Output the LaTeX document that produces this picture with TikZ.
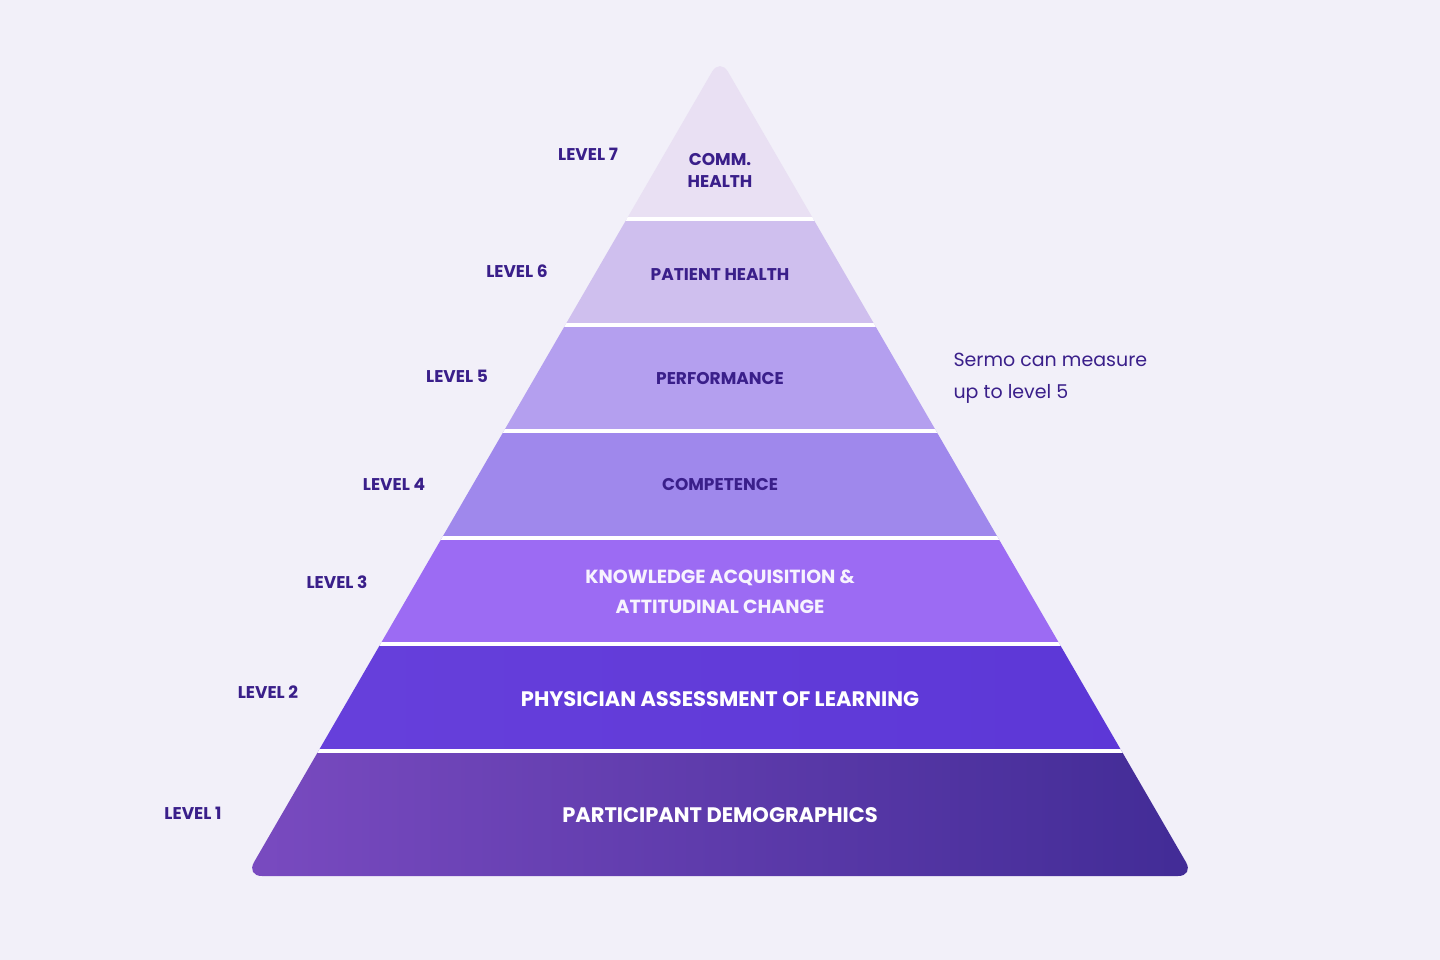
\documentclass[tikz,border=0pt]{standalone}
\usepackage{fontspec}
\setmainfont{Poppins}
\definecolor{bg}{HTML}{F2F0F9}
\definecolor{ink}{HTML}{3A1F8A}
\definecolor{cA}{HTML}{E9E0F3}
\definecolor{cB}{HTML}{CFBFEE}
\definecolor{cC}{HTML}{B49FEF}
\definecolor{cD}{HTML}{9F88EC}
\definecolor{cE}{HTML}{9C6BF3}
\definecolor{cF}{HTML}{5B36D6}
\definecolor{cG}{HTML}{3F2A94}
\definecolor{cGl}{HTML}{7C4CC2}
\begin{document}
\begin{tikzpicture}[x=1pt,y=-1pt,
  lvl/.style={font=\fontsize{17}{20}\selectfont\bfseries,text=ink},
  band/.style={font=\fontsize{17}{28}\selectfont\bfseries,text=ink,align=center},
  bandw/.style={font=\fontsize{21}{30}\selectfont\bfseries,text=white,align=center},
  gap/.style={white,line width=4pt}]
\fill[bg] (0,0) rectangle (1440,960);
\useasboundingbox (0,0) rectangle (1440,960);
\begin{scope}
\clip[rounded corners=16pt] (720,58) -- (1194,876) -- (246,876) -- cycle;
\fill[cA] (200,40) rectangle (1240,219);
\fill[cB] (200,219) rectangle (1240,325);
\fill[cC] (200,325) rectangle (1240,431);
\fill[cD] (200,431) rectangle (1240,538);
\fill[cE] (200,538) rectangle (1240,644);
\shade[left color=cF!80!cE, right color=cF] (200,644) rectangle (1240,751);
\shade[left color=cGl, right color=cG] (200,751) rectangle (1240,900);
\foreach \yy in {219,325,431,538,644,751} \draw[gap] (200,\yy) -- (1240,\yy);
\end{scope}
\node[band] (b7) at (720,170) {COMM.\\[-6pt]HEALTH};
\node[band] (b6) at (720,275) {PATIENT HEALTH};
\node[band] (b5) at (720,379) {PERFORMANCE};
\node[band] (b4) at (720,485) {COMPETENCE};
\node[bandw,text=white!92!cE,font=\fontsize{19}{30}\selectfont\bfseries] (b3) at (720,592) {KNOWLEDGE ACQUISITION \&\\ATTITUDINAL CHANGE};
\node[bandw] (b2) at (720,699) {PHYSICIAN ASSESSMENT OF LEARNING};
\node[bandw] (b1) at (720,815) {PARTICIPANT DEMOGRAPHICS};
\node[lvl] (l7) at (588,154) {LEVEL 7};
\node[lvl] (l6) at (517,271) {LEVEL 6};
\node[lvl] (l5) at (457,376) {LEVEL 5};
\node[lvl] (l4) at (394,484) {LEVEL 4};
\node[lvl] (l3) at (337,582) {LEVEL 3};
\node[lvl] (l2) at (268,692) {LEVEL 2};
\node[lvl] (l1) at (193,813) {LEVEL 1};
\node[anchor=west,align=left,text=ink,font=\fontsize{19}{32}\selectfont] (note) at (950,378) {Sermo can measure\\up to level 5};
\end{tikzpicture}
\end{document}
